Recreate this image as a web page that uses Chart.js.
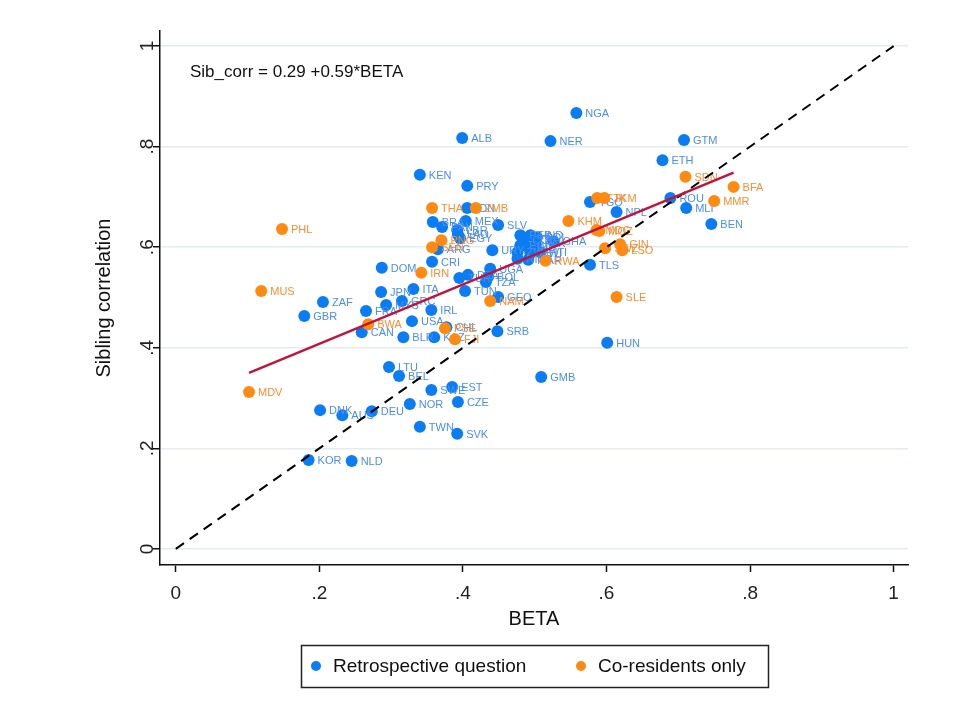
<!DOCTYPE html>
<html lang="en">

<head>
    <meta charset="UTF-8">
    <title>Sibling correlation vs BETA</title>
</head>

<script src="https://cdn.jsdelivr.net/npm/chart.js"></script>

<body style="margin:0; background:#fff;">
    <canvas id="sibChart" width="979" height="712"></canvas>
</body>
<script>
    // retrospective-question countries
    const retroCodes = ['NGA', 'ALB', 'NER', 'GTM', 'ETH', 'KEN', 'PRY', 'TGO', 'ROU', 'MLI', 'NPL', 'BEN',
        'IDN', 'BRA', 'PAN', 'MEX', 'SLV', 'LBR', 'LAO', 'EGY', 'ARG', 'URY',
        'PER', 'HND', 'COL', 'BDI', 'ECU', 'IND', 'PAK', 'GHA', 'ZWE', 'MWI', 'HTI', 'MAR', 'NIC',
        'TLS', 'CRI', 'DOM', 'UGA', 'DZA', 'TUR', 'BOL', 'TZA', 'TUN', 'JPN', 'ITA', 'GRC', 'MYS',
        'ZAF', 'GBR', 'FRA', 'GEO', 'IRL', 'USA', 'CAN', 'BLR', 'KAZ', 'CHL', 'SRB', 'HUN',
        'LTU', 'BEL', 'GMB', 'SWE', 'EST', 'CZE', 'NOR', 'DNK', 'AUS', 'DEU', 'TWN', 'SVK', 'KOR', 'NLD'];
    const retroBeta = [0.558, 0.399, 0.522, 0.708, 0.678, 0.340, 0.406, 0.577, 0.689, 0.711, 0.614, 0.746,
        0.406, 0.358, 0.371, 0.404, 0.449, 0.392, 0.393, 0.396, 0.365, 0.441,
        0.480, 0.494, 0.484, 0.503, 0.480, 0.491, 0.501, 0.526, 0.476, 0.494, 0.508, 0.491, 0.476,
        0.577, 0.357, 0.287, 0.438, 0.407, 0.395, 0.435, 0.432, 0.403, 0.286, 0.331, 0.315, 0.293,
        0.205, 0.179, 0.265, 0.449, 0.356, 0.329, 0.259, 0.317, 0.360, 0.377, 0.448, 0.601,
        0.297, 0.311, 0.509, 0.356, 0.385, 0.393, 0.326, 0.201, 0.232, 0.273, 0.340, 0.392, 0.185, 0.245];
    const retroCorr = [0.867, 0.817, 0.811, 0.813, 0.773, 0.744, 0.722, 0.690, 0.698, 0.678, 0.670, 0.646,
        0.678, 0.650, 0.640, 0.652, 0.644, 0.634, 0.626, 0.618, 0.596, 0.594,
        0.624, 0.624, 0.614, 0.620, 0.604, 0.600, 0.608, 0.612, 0.590, 0.588, 0.590, 0.575, 0.577,
        0.565, 0.571, 0.559, 0.557, 0.545, 0.539, 0.541, 0.531, 0.513, 0.511, 0.517, 0.493, 0.485,
        0.491, 0.463, 0.473, 0.501, 0.475, 0.453, 0.431, 0.421, 0.421, 0.441, 0.433, 0.410,
        0.362, 0.344, 0.342, 0.316, 0.322, 0.292, 0.288, 0.276, 0.266, 0.274, 0.243, 0.229, 0.177, 0.175];

    // co-resident-only countries
    const coresCodes = ['SDN', 'BFA', 'MMR', 'TJK', 'TKM', 'KHM', 'THA', 'ZMB', 'PNG', 'SEN', 'IRN', 'RWA',
        'MDG', 'MOZ', 'SWZ', 'GIN', 'LSO', 'SLE', 'NAM', 'PSE', 'FJI', 'BWA', 'MUS', 'PHL', 'MDV'];
    const coresBeta = [0.710, 0.777, 0.750, 0.587, 0.597, 0.547, 0.357, 0.418, 0.370, 0.357, 0.342, 0.515,
        0.586, 0.590, 0.598, 0.619, 0.622, 0.614, 0.438, 0.375, 0.389, 0.268, 0.119, 0.148, 0.102];
    const coresCorr = [0.740, 0.720, 0.692, 0.698, 0.698, 0.652, 0.678, 0.678, 0.614, 0.600, 0.549, 0.573,
        0.634, 0.632, 0.598, 0.606, 0.594, 0.501, 0.493, 0.439, 0.417, 0.447, 0.513, 0.636, 0.312];

    // fitted line: Sib_corr = 0.29 + 0.59*BETA
    const fitIntercept = 0.29;
    const fitSlope = 0.59;
    const fitRange = [0.102, 0.777];

    const xTicks = [0, 0.2, 0.4, 0.6, 0.8, 1];
    const yTicks = [0, 0.2, 0.4, 0.6, 0.8, 1];
    const tickText = ['0', '.2', '.4', '.6', '.8', '1'];

    const BLUE = '#0a7cf4';
    const ORANGE = '#ff8a12';
    const FONT = "'Liberation Sans', Arial, sans-serif";

    const toPoints = (xs, ys) => xs.map((v, i) => ({ x: v, y: ys[i] }));

    const data = {
        datasets: [
            {
                type: 'line', label: 'fit', order: 0,
                data: fitRange.map(b => ({ x: b, y: fitIntercept + fitSlope * b })),
                borderColor: '#c0143c', borderWidth: 2.5, pointRadius: 0, fill: false
            },
            {
                type: 'line', label: '45deg', order: 0,
                data: [{ x: 0, y: 0 }, { x: 1, y: 1 }],
                borderColor: '#000', borderWidth: 2, borderDash: [10, 7], pointRadius: 0, fill: false
            },
            {
                type: 'scatter', label: 'Retrospective question', order: 2,
                data: toPoints(retroBeta, retroCorr), codes: retroCodes, labelColor: '#4a8def',
                backgroundColor: BLUE, borderColor: BLUE, pointRadius: 6, pointBorderWidth: 0
            },
            {
                type: 'scatter', label: 'Co-residents only', order: 1,
                data: toPoints(coresBeta, coresCorr), codes: coresCodes, labelColor: '#f58e34',
                backgroundColor: ORANGE, borderColor: ORANGE, pointRadius: 6, pointBorderWidth: 0
            }
        ]
    };

    // country codes next to each marker
    const codeLabels = {
        id: 'codeLabels',
        afterDatasetDraw(chart, args) {
            const ds = chart.data.datasets[args.index];
            if (!ds.codes) return;
            const ctx = chart.ctx;
            ctx.save();
            ctx.font = '11px ' + FONT;
            ctx.fillStyle = ds.labelColor;
            ctx.textAlign = 'left';
            ctx.textBaseline = 'middle';
            args.meta.data.forEach((pt, i) => {
                ctx.fillText(ds.codes[i], pt.x + 9, pt.y + 1);
            });
            ctx.restore();
        }
    };

    // axis titles, equation note and boxed legend
    const extras = {
        id: 'extras',
        afterDraw(chart) {
            const ctx = chart.ctx;
            const xs = chart.scales.x, ys = chart.scales.y;
            ctx.save();
            ctx.fillStyle = '#111';
            ctx.font = '20px ' + FONT;
            ctx.textAlign = 'center';
            ctx.textBaseline = 'middle';
            ctx.fillText('BETA', (xs.left + xs.right) / 2, 619);
            ctx.save();
            ctx.translate(104, (ys.top + ys.bottom) / 2);
            ctx.rotate(-Math.PI / 2);
            ctx.fillText('Sibling correlation', 0, 0);
            ctx.restore();

            ctx.font = '17px ' + FONT;
            ctx.textAlign = 'left';
            ctx.fillText('Sib_corr = ' + fitIntercept.toFixed(2) + ' +' + fitSlope.toFixed(2) + '*BETA', 190, 72);

            // legend
            ctx.strokeStyle = '#222';
            ctx.lineWidth = 1.5;
            ctx.strokeRect(301.5, 645.5, 467, 42);
            ctx.font = '19px ' + FONT;
            const items = chart.data.datasets.filter(d => d.codes);
            const starts = [316, 581];
            items.forEach((d, i) => {
                ctx.fillStyle = d.backgroundColor;
                ctx.beginPath();
                ctx.arc(starts[i], 666, 5, 0, Math.PI * 2);
                ctx.fill();
                ctx.fillStyle = '#111';
                ctx.fillText(d.label, starts[i] + 17, 667);
            });
            ctx.restore();
        }
    };

    const config = {
        data: data,
        options: {
            responsive: false,
            animation: false,
            layout: { padding: { left: 0, top: 31, right: 71, bottom: 0 } },
            plugins: { legend: { display: false }, tooltip: { enabled: false } },
            scales: {
                x: {
                    type: 'linear', min: -0.022, max: 1.02,
                    afterBuildTicks: s => { s.ticks = xTicks.map(v => ({ value: v })); },
                    afterFit: s => { s.height = 147; },
                    grid: { drawOnChartArea: false, tickLength: 7, tickColor: '#111', tickWidth: 1.5 },
                    border: { display: true, color: '#111', width: 1.5 },
                    ticks: {
                        color: '#222', font: { size: 19, family: FONT }, padding: 10,
                        maxRotation: 0, minRotation: 0,
                        callback: v => tickText[xTicks.indexOf(v)]
                    }
                },
                y: {
                    type: 'linear', min: -0.032, max: 1.03,
                    afterBuildTicks: s => { s.ticks = yTicks.map(v => ({ value: v })); },
                    afterFit: s => { s.width = 160; },
                    grid: { color: '#e3ecef', lineWidth: 1.5, tickLength: 7, tickColor: '#111', tickWidth: 1.5 },
                    border: { display: true, color: '#111', width: 1.5 },
                    ticks: {
                        color: '#222', font: { size: 19, family: FONT }, padding: -3,
                        minRotation: 90, maxRotation: 90, crossAlign: 'center',
                        callback: v => tickText[yTicks.indexOf(v)]
                    }
                }
            }
        },
        plugins: [codeLabels, extras]
    };

    const chart1 = new Chart(document.getElementById('sibChart'), config);
</script>

</html>
